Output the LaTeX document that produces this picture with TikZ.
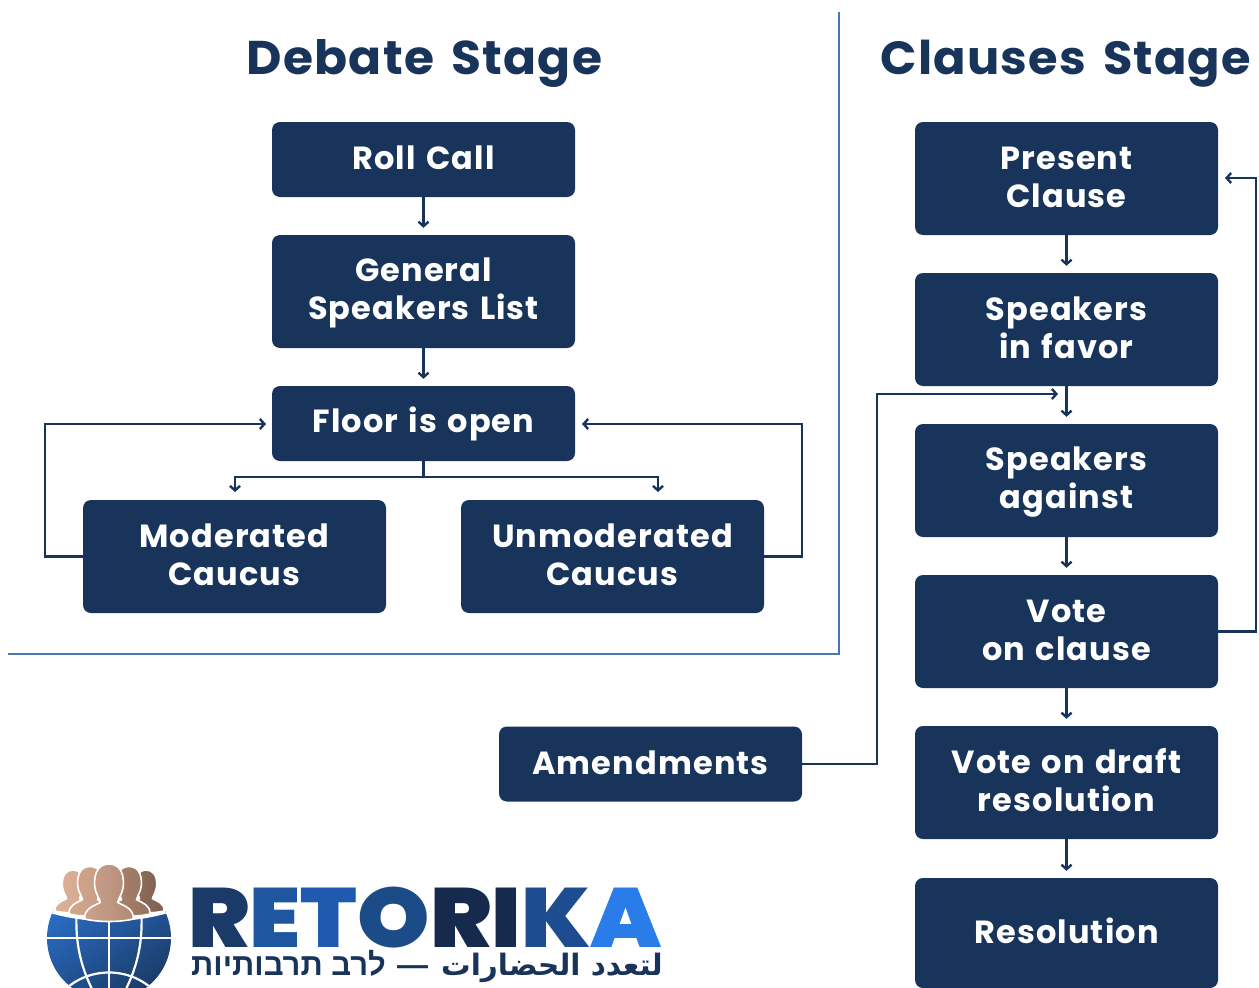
\documentclass[tikz,border=0pt]{standalone}
\usepackage{fontspec}
\setmainfont{Poppins}[LetterSpace=3.5,WordSpace=1.3]
\newfontfamily\headfont{Poppins}[LetterSpace=2.5,WordSpace=1.5,FakeStretch=1.03]
\newfontfamily\logofont{Poppins}[UprightFont=* Black,BoldFont=* Black,FakeStretch=1.095]
\newfontfamily\hebfont[Script=Hebrew]{Liberation Sans}
\newfontfamily\arabicfont[Script=Arabic]{DejaVu Sans}
\TeXXeTstate=1
\usetikzlibrary{arrows.meta,calc}
\definecolor{navy}{HTML}{18345A}
\definecolor{divline}{HTML}{4A78AE}
\definecolor{globelight}{HTML}{2A6CC4}
\newcommand{\lnA}{\rule{0pt}{26.5pt}}
\newcommand{\lnZ}{\rule[-6.5pt]{0pt}{6.5pt}}
\tikzset{
  box/.style={draw=none,fill=navy,rounded corners=8pt,text=white,font=\fontsize{32}{38.5}\selectfont\bfseries,align=center,minimum width=303pt,inner sep=0pt},
  shortbox/.style={box,minimum height=75pt},
  tallbox/.style={box,minimum height=113pt},
  conn/.style={draw=navy,line width=2.6pt,line cap=round},
  arr/.style={conn,-{Straight Barb[length=4.5pt,width=10pt,line width=2.4pt]}},
  heading/.style={anchor=base,text=navy,font=\headfont\fontsize{47.3}{48}\selectfont\bfseries},
  person/.style={draw=white,line width=1.6pt},
  gridline/.style={draw=white,line width=2.2pt},
}
\newcommand{\personpath}[5]{%
  \definecolor{pl}{HTML}{#4}\definecolor{pr}{HTML}{#5}%
  \path[left color=pl,right color=pr,person,shift={(#1,#2)},scale=#3]
   (-22,0) .. controls (-23,-9) and (-14,-12) .. (-8,-15) .. controls (-8,-18) and (-12,-22) .. (-13,-30)
   .. controls (-14,-44) and (-8,-50) .. (0,-50) .. controls (8,-50) and (14,-44) .. (13,-30)
   .. controls (12,-22) and (8,-18) .. (8,-15) .. controls (14,-12) and (23,-9) .. (22,0)
   .. controls (10,3) and (-10,3) .. (-22,0) -- cycle;}
\begin{document}
\begin{tikzpicture}[x=1pt,y=-1pt]
\useasboundingbox (0,0) rectangle (1259,988);
\begin{scope}
\clip (0,0) rectangle (1259,988);
% dividers
\draw[divline,line width=2.6pt] (839,12) -- (839,654) -- (8,654);
% headings
\node[heading] (h1) at (424.5,74) {Debate Stage};
\node[heading,font=\headfont\fontsize{46.5}{48}\selectfont\bfseries] (h2) at (1066,74) {Clauses Stage};
% debate
\node[shortbox] (roll) at (423.5,159.5) {\lnA Roll Call\lnZ};
\node[tallbox] (gsl) at (423.5,291.5) {\lnA General\\Speakers List\lnZ};
\node[shortbox] (floor) at (423.5,423.5) {\lnA Floor is open\lnZ};
\node[tallbox] (mod) at (234.5,556.5) {\lnA Moderated\\Caucus\lnZ};
\node[tallbox] (unmod) at (612.5,556.5) {\lnA Unmoderated\\Caucus\lnZ};
% clauses
\node[tallbox] (present) at (1066.5,178.5) {\lnA Present\\Clause\lnZ};
\node[tallbox] (favor) at (1066.5,329.5) {\lnA Speakers\\in favor\lnZ};
\node[tallbox] (against) at (1066.5,480.5) {\lnA Speakers\\against\lnZ};
\node[tallbox] (vote) at (1066.5,631.5) {\lnA Vote\\on clause\lnZ};
\node[tallbox] (draft) at (1066.5,782.5) {\lnA Vote on draft\\resolution\lnZ};
\node[box,minimum height=110pt] (res) at (1066.5,933) {\lnA Resolution\lnZ};
\node[shortbox] (amend) at (650.5,764) {\lnA Amendments\lnZ};
% helper points
\coordinate (fl) at (266,424);
\coordinate (fr) at (582,424);
\coordinate (ml) at (235,492);
\coordinate (ur) at (658,492);
\coordinate (vr) at (1225,178);
\coordinate (ar) at (1058,394);
% connectors
\draw[arr] (roll.south) -- ($(gsl.north)+(0,-7)$);
\draw[arr] (gsl.south) -- ($(floor.north)+(0,-7)$);
\draw[conn] (floor.south) -- (423.5,477);
\draw[arr] (423.5,477) -| (ml);
\draw[arr] (423.5,477) -| (ur);
\draw[arr] (mod.west) -- (45,556.5) |- (fl);
\draw[arr] (unmod.east) -- (802,556.5) |- (fr);
\draw[arr] (present.south) -- ($(favor.north)+(0,-7)$);
\draw[arr] (favor.south) -- ($(against.north)+(0,-7)$);
\draw[arr] (against.south) -- ($(vote.north)+(0,-7)$);
\draw[arr] (vote.south) -- ($(draft.north)+(0,-7)$);
\draw[arr] (draft.south) -- ($(res.north)+(0,-7)$);
\draw[arr] (vote.east) -- (1256,631.5) |- (vr);
\draw[arr] (amend.east) -- (877,764) |- (ar);
% logo globe
\begin{scope}
\clip (109,938) circle[radius=62];
\shade[left color=globelight,right color=navy,shading angle=35] (30,900) rectangle (190,1010);
\draw[gridline] (40,938) -- (180,938);
\draw[gridline] (109,905) -- (109,1005);
\draw[gridline] (77,905) .. controls (74,945) and (82,970) .. (95,995);
\draw[gridline] (141,905) .. controls (144,945) and (136,970) .. (123,995);
\draw[gridline] (60,995) .. controls (85,965) and (133,965) .. (158,995);
\fill[white] (40,900) -- (40,910) .. controls (85,925) and (133,925) .. (178,910) -- (178,900) -- cycle;
\end{scope}
\personpath{73}{911}{0.82}{DDB198}{D3A78F}
\personpath{146}{911}{0.82}{94705C}{7D6050}
\personpath{90}{914}{0.95}{D3A68E}{C69A82}
\personpath{129}{914}{0.95}{AC8570}{96725E}
\personpath{109}{919}{1.1}{CDA28B}{B08A76}
% logo text
\node[anchor=base west,inner sep=0pt,font=\logofont\fontsize{84}{84}\selectfont] (brand) at (188,947)
 {\color[HTML]{1A3A68}R\color[HTML]{1E56A0}E\color[HTML]{1F5AAE}T\color[HTML]{1C4C88}O\color[HTML]{152A4C}R\color[HTML]{152A4C}I\color[HTML]{1E4C90}K\color[HTML]{2A7CE8}A};
\node[anchor=base west,inner sep=0pt,text=navy,font=\hebfont\fontsize{31}{31}\selectfont\bfseries] (tagh) at (191,975)
 {\beginR לרב תרבותיות\endR};
\node[anchor=base west,inner sep=0pt,text=navy,font=\hebfont\fontsize{31}{31}\selectfont\bfseries] (tagd) at (397,975) {—};
\node[anchor=base west,inner sep=0pt,text=navy,font=\arabicfont\fontsize{29.5}{30}\selectfont\bfseries] (taga) at (441,975)
 {\beginR لتعدد الحضارات\endR};
\end{scope}
\end{tikzpicture}
\end{document}
